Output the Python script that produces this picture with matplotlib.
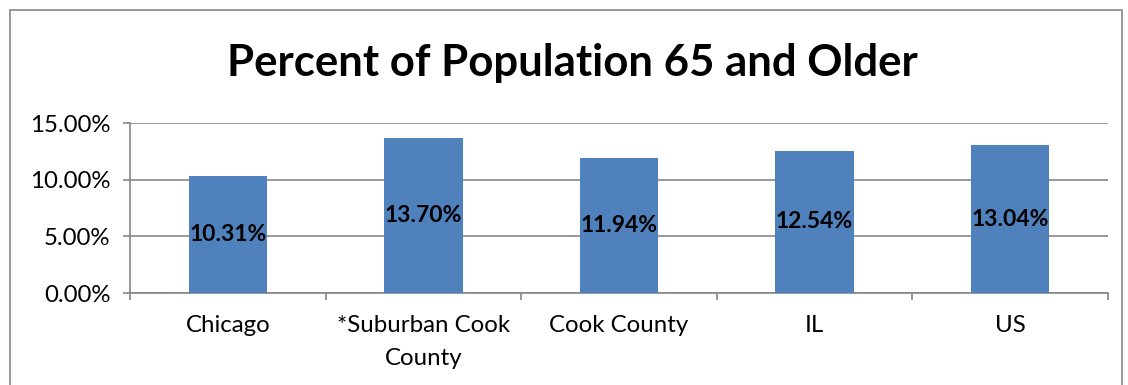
import matplotlib.pyplot as plt
from matplotlib.patches import Rectangle
from matplotlib.ticker import FuncFormatter

plt.rcParams['font.family'] = ['Lato', 'DejaVu Sans']

categories = ["Chicago", "*Suburban Cook\nCounty", "Cook County", "IL", "US"]
values = [10.31, 13.70, 11.94, 12.54, 13.04]

grey = "#868686"
blue = "#4F81BD"

fig = plt.figure(figsize=(11.28, 3.85), dpi=100)
ax = fig.add_axes([130 / 1128, 92 / 385, 978 / 1128, 170 / 385])

x = range(len(categories))
bars = ax.bar(x, values, width=0.4, color=blue, zorder=3)

for b, v in zip(bars, values):
    ax.text(b.get_x() + b.get_width() / 2, v / 2, f"{v:.2f}%",
            ha="center", va="center", fontsize=16.5, fontweight="bold", zorder=4)

ax.set_xlim(-0.5, len(categories) - 0.5)
ax.set_ylim(0, 15)
ax.set_yticks([0, 5, 10, 15])
ax.yaxis.set_major_formatter(FuncFormatter(lambda v, p: f"{v:.2f}%"))
ax.grid(axis="y", color=grey, linewidth=1.2, zorder=0)

ax.set_xticks([i + 0.5 for i in range(-1, len(categories))])
ax.set_xticklabels([])
ax.set_xticks(list(x), minor=True)
ax.set_xticklabels(categories, minor=True, fontsize=17.3, linespacing=1.7,
                   multialignment="center")
ax.tick_params(axis="x", which="minor", length=0, pad=16)
ax.tick_params(axis="x", which="major", length=5, color=grey, width=1.2)
ax.tick_params(axis="y", length=5, color=grey, width=1.2, labelsize=17.3, pad=9)

for s in ["top", "right"]:
    ax.spines[s].set_visible(False)
for s in ["left", "bottom"]:
    ax.spines[s].set_color(grey)
    ax.spines[s].set_linewidth(1.2)

fig.text(572 / 1128, 1 - 63 / 385, "Percent of Population 65 and Older",
         ha="center", va="center", fontsize=31.5, fontweight="bold")

fig.patches.append(Rectangle((10 / 1128, -0.1), 1112 / 1128, 1 - 10 / 385 + 0.1,
                             transform=fig.transFigure, fill=False,
                             edgecolor=grey, linewidth=1.2))

fig.savefig("out.png", dpi=100)
